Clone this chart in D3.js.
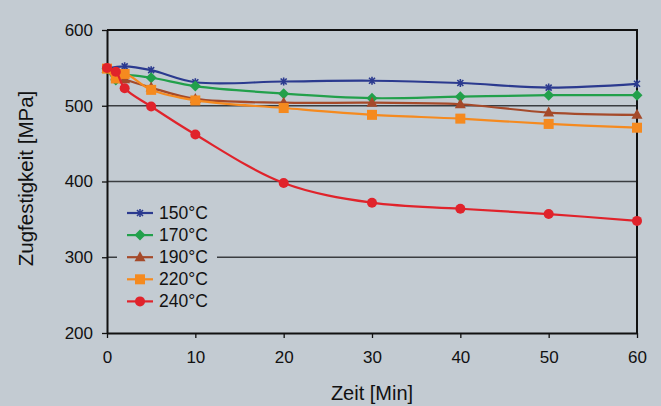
<!DOCTYPE html>
<html>
<head>
<meta charset="utf-8">
<script src="https://cdn.jsdelivr.net/npm/d3@7"></script>
<style>
  body { margin: 0; background: #c3cbd2; }
  text { font-family: "Liberation Sans", Arial, sans-serif; fill: #111; }
</style>
</head>
<body>
<div id="chart-area"></div>
<script>
// Data
var seriesNames = ["150°C", "170°C", "190°C", "220°C", "240°C"];
var seriesColors = ["#2b3a8f", "#22a04b", "#a54a2a", "#f58a1f", "#e0232b"];
var seriesMarkers = ["star", "diamond", "triangle", "square", "circle"];

var t150 = [[0, 549], [2, 552], [5, 547], [10, 531], [20, 532], [30, 533], [40, 530], [50, 524], [60, 529]];
var t170 = [[0, 549], [1, 534], [2, 540], [5, 537], [10, 526], [20, 516], [30, 510], [40, 512], [50, 514], [60, 514]];
var t190 = [[0, 549], [1, 540], [2, 535], [5, 524], [10, 509], [20, 504], [30, 504], [40, 502], [50, 491], [60, 488]];
var t220 = [[0, 549], [1, 536], [2, 542], [5, 521], [10, 507], [20, 497], [30, 488], [40, 483], [50, 476], [60, 471]];
var t240 = [[0, 550], [1, 545], [2, 523], [5, 499], [10, 462], [20, 398], [30, 372], [40, 364], [50, 357], [60, 348]];
var allSeries = [t150, t170, t190, t220, t240];

var xTicks = [0, 10, 20, 30, 40, 50, 60];
var yTicks = [200, 300, 400, 500, 600];

var margin = { left: 107, right: 24, top: 30, bottom: 73 },
    width = 661 - margin.left - margin.right,
    height = 406 - margin.top - margin.bottom;

var svg = d3.select("#chart-area")
  .append("svg")
    .attr("width", 661)
    .attr("height", 406)
  .append("g")
    .attr("transform", "translate(" + margin.left + "," + margin.top + ")");

var x = d3.scaleLinear().domain([0, 60]).range([0, width]);
var y = d3.scaleLinear().domain([200, 600]).range([height, 0]);

// gridlines
svg.selectAll(".grid")
  .data(yTicks.filter(d => d > 200 && d < 600))
  .enter().append("line")
    .attr("x1", 0).attr("x2", width)
    .attr("y1", d => y(d)).attr("y2", d => y(d))
    .attr("stroke", "#3a3d40")
    .attr("stroke-width", 1.5);

// axes
var xAxis = svg.append("g")
  .attr("transform", "translate(0," + height + ")")
  .call(d3.axisBottom(x).tickValues(xTicks).tickSize(5).tickSizeOuter(0).tickPadding(13));
var yAxis = svg.append("g")
  .call(d3.axisLeft(y).tickValues(yTicks).tickSize(5).tickSizeOuter(0).tickPadding(9));
[xAxis, yAxis].forEach(a => {
  a.select(".domain").attr("stroke", "#111").attr("stroke-width", 2);
  a.selectAll(".tick line").attr("stroke", "#111").attr("stroke-width", 1.3);
  a.selectAll(".tick text").attr("font-size", "17px").attr("fill", "#111")
    .style("font-family", "'Liberation Sans', Arial, sans-serif");
});

// frame top/right
svg.append("path")
  .attr("d", "M0,0H" + width + "V" + height)
  .attr("fill", "none")
  .attr("stroke", "#111")
  .attr("stroke-width", 2);

// axis titles
svg.append("text")
  .attr("x", width / 2)
  .attr("y", height + 67)
  .attr("text-anchor", "middle")
  .attr("font-size", "20px")
  .text("Zeit [Min]");
svg.append("text")
  .attr("transform", "rotate(-90)")
  .attr("x", -height / 2 + 3)
  .attr("y", -74)
  .attr("text-anchor", "middle")
  .attr("font-size", "20.5px")
  .text("Zugfestigkeit [MPa]");

var line = d3.line()
  .x(d => x(d[0]))
  .y(d => y(d[1]))
  .curve(d3.curveCatmullRom.alpha(0.5));

function marker(g, type, color) {
  if (type === "star") {
    g.append("path")
      .attr("d", "M-3,-3L3,3M-3,3L3,-3M0,-4V4")
      .attr("stroke", color).attr("stroke-width", 1.6).attr("fill", "none");
  } else if (type === "diamond") {
    g.append("path").attr("d", "M0,-5.5L5.5,0L0,5.5L-5.5,0Z").attr("fill", color);
  } else if (type === "triangle") {
    g.append("path").attr("d", "M0,-6L5.5,4L-5.5,4Z").attr("fill", color);
  } else if (type === "square") {
    g.append("rect").attr("x", -5).attr("y", -5).attr("width", 10).attr("height", 10).attr("fill", color);
  } else {
    g.append("circle").attr("r", 5).attr("fill", color);
  }
}

allSeries.forEach((data, i) => {
  svg.append("path")
    .attr("d", line(data))
    .attr("fill", "none")
    .attr("stroke", seriesColors[i])
    .attr("stroke-width", 2.2);
  svg.selectAll(".m" + i)
    .data(data)
    .enter().append("g")
      .attr("class", "m" + i)
      .attr("transform", d => "translate(" + x(d[0]) + "," + y(d[1]) + ")")
      .each(function() { marker(d3.select(this), seriesMarkers[i], seriesColors[i]); });
});

// legend
var legend = svg.append("g").attr("transform", "translate(10,172)");
legend.append("rect")
  .attr("x", 0).attr("y", 0)
  .attr("width", 100).attr("height", 112)
  .attr("fill", "#c3cbd2");
seriesNames.forEach((name, i) => {
  var row = legend.append("g").attr("transform", "translate(0," + (11 + i * 22.1) + ")");
  row.append("line")
    .attr("x1", 10).attr("x2", 36)
    .attr("stroke", seriesColors[i]).attr("stroke-width", 2.2);
  var m = row.append("g").attr("transform", "translate(23,0)");
  marker(m, seriesMarkers[i], seriesColors[i]);
  row.append("text")
    .attr("x", 42)
    .attr("y", 6)
    .attr("font-size", "17.5px")
    .text(name);
});
</script>
</body>
</html>
